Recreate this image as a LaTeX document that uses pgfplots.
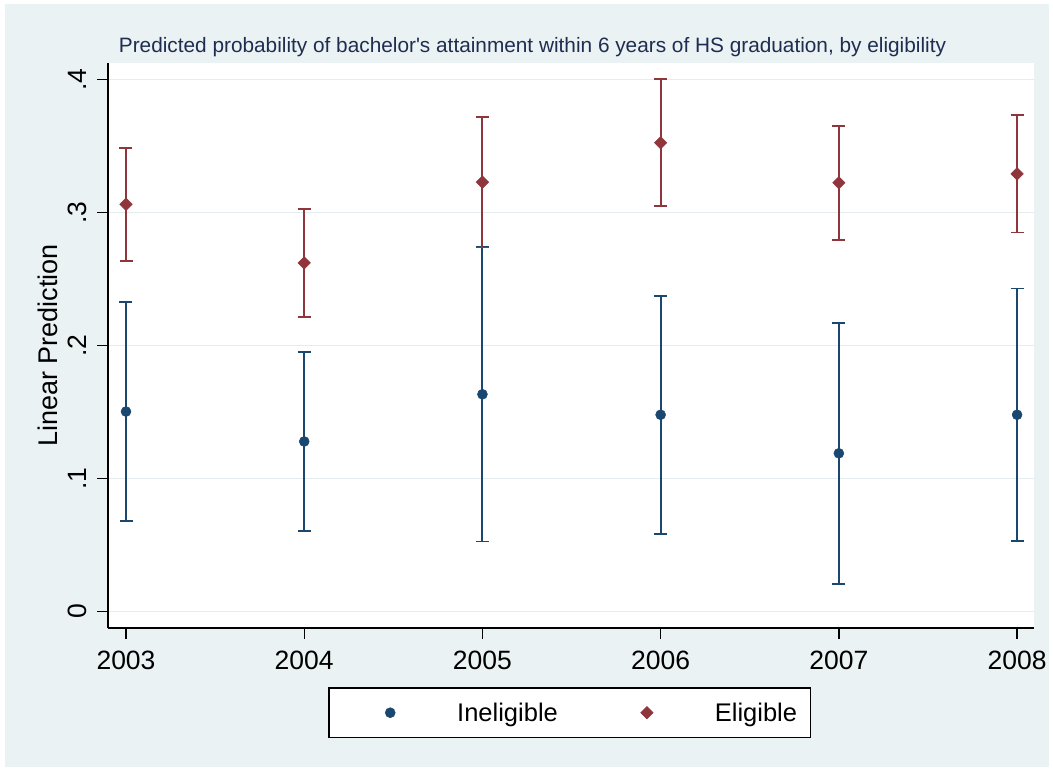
\documentclass[border=0pt]{standalone}
\usepackage{fontspec}
\setmainfont{Liberation Sans}
\usepackage{pgfplots}
\pgfplotsset{compat=1.18}
\usepackage{pgfplotstable}
\definecolor{bgc}{RGB}{234,242,243}
\definecolor{gridc}{RGB}{228,236,240}
\definecolor{navyc}{RGB}{26,71,111}
\definecolor{maroonc}{RGB}{144,53,59}
\definecolor{titlec}{RGB}{30,45,80}

\pgfplotsset{
  leginel/.style={legend image code/.code={%
    \pgfpathrectangle{\pgfpoint{-61pt}{-24.5pt}}{\pgfpoint{128pt}{49pt}}\pgfusepath{use as bounding box}%
    \draw[##1] plot coordinates {(0pt,0pt)};}},
  legelig/.style={legend image code/.code={%
    \pgfpathrectangle{\pgfpoint{-89pt}{-24.5pt}}{\pgfpoint{157pt}{49pt}}\pgfusepath{use as bounding box}%
    \draw[##1] plot coordinates {(0pt,0pt)};}},
}

\pgfplotstableread{
x y e
2003 0.1504 0.0822
2004 0.1279 0.0675
2005 0.1634 0.1108
2006 0.1480 0.0895
2007 0.1190 0.0981
2008 0.1480 0.0949
}\inel
\pgfplotstableread{
x y e
2003 0.3063 0.0425
2004 0.2622 0.0405
2005 0.3230 0.0491
2006 0.3526 0.0478
2007 0.3225 0.0428
2008 0.3292 0.0442
}\elig

\begin{document}
\begin{tikzpicture}[x=1pt,y=1pt]
\fill[white] (0,0) rectangle (1053,771);
\fill[bgc] (5,4) rectangle (1049,767);
\begin{axis}[
  at={(108pt,143pt)}, anchor=south west,
  scale only axis, width=926pt, height=565pt,
  xmin=2002.899, xmax=2008.095, ymin=-0.0124, ymax=0.4126,
  axis background/.style={fill=white},
  axis x line*=bottom, axis y line*=left,
  axis line style={line width=1.3pt, -},
  tick align=outside, major tick length=11pt,
  tick style={line width=1.3pt, black},
  xtick={2003,2004,2005,2006,2007,2008},
  xticklabels={2003,2004,2005,2006,2007,2008},
  ytick={0,0.1,0.2,0.3,0.4},
  yticklabels={0,.1,.2,.3,.4},
  yticklabel style={rotate=90, anchor=south},
  yticklabel shift=7pt, xticklabel shift=8pt,
  ymajorgrids, grid style={line width=1.5pt, draw=gridc},
  ticklabel style={font=\fontsize{26.5}{30}\selectfont},
  /pgf/number format/assume math mode=true,
  ylabel={Linear Prediction},
  ylabel style={font=\fontsize{27}{31}\selectfont, at={(axis description cs:-0.0648,0.5)}, anchor=center},
  legend columns=2,
  legend style={name=leg, at={(axis description cs:0.2387,-0.1062)}, anchor=north west,
    draw=none, fill=white, inner sep=0pt,
    font=\fontsize{25.5}{29}\selectfont,
    /tikz/every even column/.style={column sep=0pt},
    nodes={inner sep=0pt, draw=none}},
]
\addplot[only marks, mark=*, mark size=5pt, color=navyc, line width=1.9pt,
  mark options={line width=0.5pt}, leginel,
  error bars/.cd, y dir=both, y explicit,
  error bar style={line width=1.9pt, color=navyc},
  error mark options={rotate=90, mark size=6.5pt, line width=1.7pt, color=navyc}]
  table[x=x, y=y, y error=e] {\inel};
\addlegendentry{Ineligible}
\addplot[only marks, mark=square*, mark size=4.4pt, mark options={rotate=45, line width=0.5pt}, color=maroonc, line width=1.9pt, legelig,
  error bars/.cd, y dir=both, y explicit,
  error bar style={line width=1.9pt, color=maroonc},
  error mark options={rotate=90, mark size=6.5pt, line width=1.7pt, color=maroonc}]
  table[x=x, y=y, y error=e] {\elig};
\addlegendentry{Eligible\rule{13pt}{0pt}}
\end{axis}
\draw[line width=1.2pt, black] (leg.north west) rectangle (leg.south east);
\node[anchor=base, font=\fontsize{20.8}{24}\selectfont, text=titlec] at (532.5,718)
  {Predicted probability of bachelor\textquotesingle s attainment within 6 years of HS graduation, by eligibility};
\end{tikzpicture}
\end{document}
